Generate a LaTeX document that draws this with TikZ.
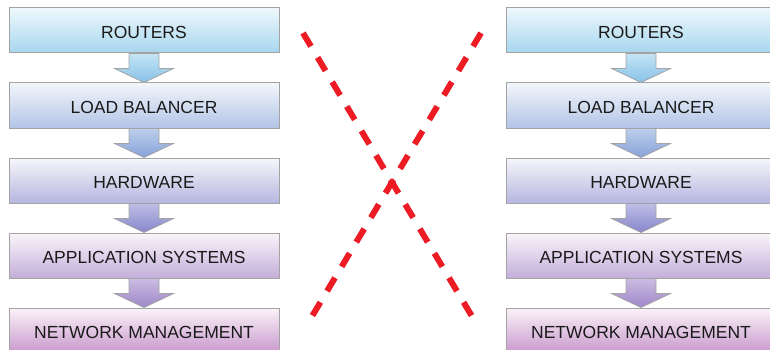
\documentclass[tikz,border=0pt]{standalone}
\usepackage{fontspec}
\setmainfont{Liberation Sans}
\usetikzlibrary{calc}
\definecolor{bordergray}{HTML}{A3A3A3}
\definecolor{xred}{HTML}{ED1C24}
\definecolor{txt}{HTML}{1A1A1A}
\definecolor{c1t}{HTML}{EEF8FC}\definecolor{c1b}{HTML}{A6D6EE}
\definecolor{c2t}{HTML}{F2F6FB}\definecolor{c2b}{HTML}{B2C4E6}
\definecolor{c3t}{HTML}{F6F6FB}\definecolor{c3b}{HTML}{B6B6E0}
\definecolor{c4t}{HTML}{F9F5FA}\definecolor{c4b}{HTML}{C4AEDA}
\definecolor{c5t}{HTML}{FAF2F8}\definecolor{c5b}{HTML}{C898CC}
\definecolor{a1t}{HTML}{C4E4F4}\definecolor{a1b}{HTML}{88C2E8}
\definecolor{a2t}{HTML}{BCCEEC}\definecolor{a2b}{HTML}{88A2D8}
\definecolor{a3t}{HTML}{BEBEE6}\definecolor{a3b}{HTML}{8686CC}
\definecolor{a4t}{HTML}{CCBCE2}\definecolor{a4b}{HTML}{9E86C8}
\tikzset{
  layerbox/.style={draw=bordergray, line width=1pt, rectangle, minimum width=270pt,
    minimum height=45pt, inner sep=0pt, text=txt, text height=16.5pt, text depth=0pt,
    font=\fontsize{17.5}{19}\selectfont},
  blockarrow/.style={draw=bordergray, line width=0.8pt},
  xline/.style={draw=xred, line width=6pt, dash pattern=on 15.5pt off 13pt}
}
\newcommand{\arrowoutline}[2]{%
  ($(#1.south)+(-15,0)$) -- ($(#1.south)+(-15,15)$) -- ($(#1.south)+(-29.5,15)$)
    -- (#2.north) -- ($(#1.south)+(29.5,15)$) -- ($(#1.south)+(15,15)$)
    -- ($(#1.south)+(15,0)$) -- cycle}
\newcommand{\layerarrow}[4]{%
  \begin{scope}
    \clip \arrowoutline{#1}{#2};
    \shade[top color=#3, bottom color=#4] ($(#1.south)+(-30,0)$) rectangle ($(#2.north)+(30,0)$);
  \end{scope}
  \draw[blockarrow] \arrowoutline{#1}{#2};}
\begin{document}
\begin{tikzpicture}[x=1pt,y=-1pt]
\useasboundingbox (0,0) rectangle (770,350);
\clip (0,0) rectangle (770,350);
\foreach \cx/\p in {144/L,641/R}{
  \node[layerbox, top color=c1t, bottom color=c1b] (\p1) at (\cx,30.5) {ROUTERS};
  \node[layerbox, top color=c2t, bottom color=c2b] (\p2) at (\cx,105.5) {LOAD BALANCER};
  \node[layerbox, top color=c3t, bottom color=c3b] (\p3) at (\cx,180.5) {HARDWARE};
  \node[layerbox, top color=c4t, bottom color=c4b] (\p4) at (\cx,255.5) {APPLICATION SYSTEMS};
  \node[layerbox, top color=c5t, bottom color=c5b] (\p5) at (\cx,330.5) {NETWORK MANAGEMENT};
  \layerarrow{\p1}{\p2}{a1t}{a1b}
  \layerarrow{\p2}{\p3}{a2t}{a2b}
  \layerarrow{\p3}{\p4}{a3t}{a3b}
  \layerarrow{\p4}{\p5}{a4t}{a4b}
}
\coordinate (x1a) at (303,33);
\coordinate (x1b) at (473,318);
\coordinate (x2a) at (481,33);
\coordinate (x2b) at (311,318);
\draw[xline] (x1a) -- (x1b);
\draw[xline] (x2a) -- (x2b);
\end{tikzpicture}
\end{document}
